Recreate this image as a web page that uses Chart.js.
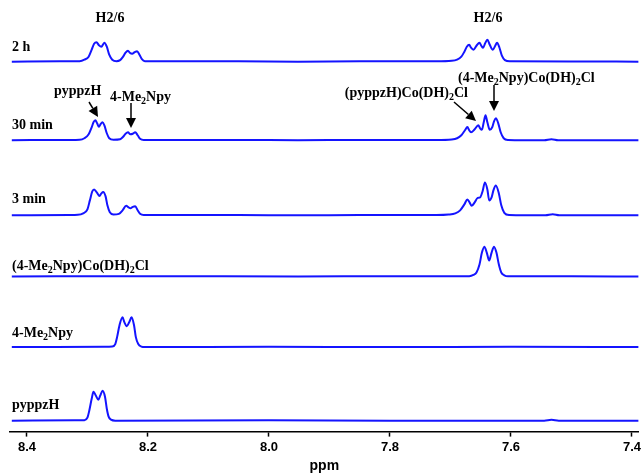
<!DOCTYPE html>
<html>
<head>
<meta charset="utf-8">
<script src="https://cdn.jsdelivr.net/npm/chart.js@4.4.0/dist/chart.umd.min.js"></script>
<style>
  html, body { margin: 0; padding: 0; background: #fff; }
  #wrap { width: 644px; height: 475px; }
</style>
</head>
<body>
<div id="wrap"><canvas id="nmrChart" width="644" height="475"></canvas></div>
<script>
// 1H NMR stacked spectra, H2/6 region

const traceNames = ["2 h", "30 min", "3 min", "(4-Me2Npy)Co(DH)2Cl", "4-Me2Npy", "pyppzH"];
const traceOffsets = [372, 293, 217.5, 156, 85, 11];
const xTicks = [8.4, 8.2, 8.0, 7.8, 7.6, 7.4];

// [ppm, intensity]
const spec2h = [
  [8.425, 0], [8.346, 0.3], [8.313, 0.5], [8.305, 2], [8.298, 5], [8.293, 12], [8.289, 18],
  [8.285, 19.5], [8.281, 16.5], [8.277, 15], [8.272, 19], [8.268, 15], [8.264, 7], [8.259, 2],
  [8.252, 0.5], [8.246, 1.5], [8.241, 5], [8.237, 9], [8.233, 11], [8.230, 9], [8.226, 8],
  [8.222, 9.5], [8.218, 10.5], [8.214, 7], [8.210, 2.5], [8.205, 0.5], [8.05, 0.4], [7.952, 0],
  [7.85, 0.3], [7.723, 0.3], [7.698, 0.8], [7.689, 2], [7.682, 5], [7.677, 10], [7.673, 15],
  [7.669, 17], [7.666, 14], [7.662, 12], [7.657, 16], [7.652, 19], [7.649, 16], [7.646, 14],
  [7.643, 18], [7.639, 22], [7.635, 17], [7.630, 12], [7.626, 16], [7.623, 19], [7.619, 14],
  [7.615, 6], [7.610, 1.5], [7.602, 0.3], [7.5, 0.2], [7.389, 0]
];
const spec30min = [
  [8.425, 0], [8.330, 0.3], [8.313, 0.5], [8.305, 2], [8.298, 6], [8.293, 13], [8.290, 18],
  [8.287, 20], [8.284, 17], [8.281, 13.5], [8.278, 16.5], [8.275, 18], [8.272, 15], [8.268, 7],
  [8.264, 2], [8.257, 0.5], [8.246, 1], [8.241, 3.5], [8.237, 6.5], [8.233, 8], [8.229, 6],
  [8.225, 6.5], [8.221, 8], [8.217, 5], [8.213, 1.5], [8.207, 0.3], [8.05, 0.3], [7.952, 0],
  [7.85, 0.3], [7.723, 0.3], [7.698, 0.8], [7.689, 2], [7.682, 5], [7.676, 10], [7.672, 13.3],
  [7.669, 10], [7.666, 8], [7.660, 11], [7.654, 15], [7.651, 12], [7.648, 10.5], [7.645, 18],
  [7.642, 25], [7.639, 18], [7.635, 10.5], [7.631, 13], [7.628, 19], [7.625, 22], [7.621, 17],
  [7.617, 8], [7.612, 2], [7.605, 0.3], [7.545, 0], [7.533, 1], [7.522, 0], [7.389, 0]
];
const spec3min = [
  [8.425, 0], [8.330, 0.3], [8.316, 0.5], [8.307, 2], [8.300, 6], [8.296, 15], [8.292, 24],
  [8.289, 26], [8.284, 22.5], [8.280, 19.5], [8.277, 22], [8.274, 23.5], [8.270, 19], [8.267, 10],
  [8.263, 3], [8.257, 0.8], [8.248, 1.5], [8.242, 5], [8.236, 9.5], [8.232, 8], [8.229, 7],
  [8.225, 8.5], [8.221, 9], [8.217, 5], [8.213, 1.5], [8.207, 0.3], [8.05, 0.3], [7.952, 0],
  [7.85, 0.3], [7.723, 0.3], [7.703, 0.8], [7.692, 2], [7.684, 5], [7.677, 11], [7.672, 16],
  [7.668, 12.5], [7.665, 9.5], [7.660, 13], [7.655, 17.5], [7.651, 18], [7.647, 24], [7.643, 33],
  [7.639, 26], [7.636, 15], [7.632, 18], [7.629, 25], [7.625, 30], [7.620, 22], [7.616, 10],
  [7.611, 2.5], [7.603, 0.3], [7.543, 0], [7.531, 1], [7.520, 0], [7.389, 0]
];
const specCoNpy = [
  [8.425, 0], [8.2, 0.3], [7.952, 0], [7.8, 0.3], [7.690, 0.3], [7.669, 0.3], [7.662, 1.5],
  [7.657, 4], [7.652, 12], [7.648, 24], [7.644, 30], [7.640, 24], [7.636, 16], [7.632, 24],
  [7.628, 30], [7.624, 24], [7.620, 12], [7.616, 4], [7.611, 1.2], [7.605, 0.2], [7.5, 0.2],
  [7.389, 0]
];
const specNpy = [
  [8.425, 0], [8.272, 0.3], [8.259, 0.5], [8.254, 3], [8.251, 10], [8.247, 22], [8.242, 30],
  [8.239, 25], [8.235, 21], [8.231, 25], [8.227, 30], [8.223, 22], [8.220, 10], [8.216, 3],
  [8.211, 0.5], [8.205, 0], [8.0, 0.3], [7.8, 0], [7.6, 0.3], [7.389, 0]
];
const specPyppzH = [
  [8.425, 0], [8.321, 0.3], [8.305, 0.5], [8.300, 3], [8.297, 10], [8.293, 22], [8.290, 29],
  [8.286, 25], [8.282, 21], [8.279, 25], [8.275, 30], [8.271, 24], [8.268, 12], [8.265, 4],
  [8.261, 1], [8.254, 0], [8.0, 0.3], [7.8, 0], [7.545, 0], [7.533, 0.8], [7.521, 0], [7.389, 0]
];
const spectra = [spec2h, spec30min, spec3min, specCoNpy, specNpy, specPyppzH];

const lineColor = "#1414ff";
const serif = "Liberation Serif";
const sans = "Liberation Sans";

// text with subscripts: plain strings and [sub] arrays
function richText(ctx, parts, x, y, align) {
  const big = "bold 14px '" + serif + "'";
  const small = "bold 10px '" + serif + "'";
  let w = 0;
  parts.forEach(p => {
    ctx.font = Array.isArray(p) ? small : big;
    w += ctx.measureText(Array.isArray(p) ? p[0] : p).width;
  });
  let cx = x;
  if (align === "right") cx = x - w;
  if (align === "center") cx = x - w / 2;
  ctx.textAlign = "left";
  ctx.textBaseline = "middle";
  ctx.fillStyle = "#000";
  parts.forEach(p => {
    const sub = Array.isArray(p);
    const s = sub ? p[0] : p;
    ctx.font = sub ? small : big;
    ctx.fillText(s, cx, sub ? y + 4 : y);
    cx += ctx.measureText(s).width;
  });
}

function arrow(ctx, x1, y1, x2, y2) {
  const a = Math.atan2(y2 - y1, x2 - x1);
  const len = 10, half = 5;
  const bx = x2 - len * Math.cos(a), by = y2 - len * Math.sin(a);
  ctx.strokeStyle = "#000";
  ctx.lineWidth = 1.5;
  ctx.beginPath();
  ctx.moveTo(x1, y1);
  ctx.lineTo(bx, by);
  ctx.stroke();
  ctx.fillStyle = "#000";
  ctx.beginPath();
  ctx.moveTo(x2, y2);
  ctx.lineTo(bx + half * Math.sin(a), by - half * Math.cos(a));
  ctx.lineTo(bx - half * Math.sin(a), by + half * Math.cos(a));
  ctx.closePath();
  ctx.fill();
}

const labelsPlugin = {
  id: "labels",
  afterDraw(chart) {
    const ctx = chart.ctx;
    const xs = chart.scales.x;
    ctx.save();

    // minor ticks
    const base = xs.bottom;
    ctx.strokeStyle = "#000";
    ctx.lineWidth = 1.2;
    const step = 0.2 / 6;
    for (let k = -1; k <= 31; k++) {
      if (k % 6 === 0) continue;
      const v = 8.4 - k * step;
      if (v < xs.min || v > xs.max) continue;
      const px = Math.round(xs.getPixelForValue(v)) + 0.5;
      ctx.beginPath();
      ctx.moveTo(px, base);
      ctx.lineTo(px, base + 3);
      ctx.stroke();
    }

    // trace names
    richText(ctx, ["2 h"], 12, 47);
    richText(ctx, ["30 min"], 12, 125);
    richText(ctx, ["3 min"], 12, 199);
    richText(ctx, ["(4-Me", ["2"], "Npy)Co(DH)", ["2"], "Cl"], 12, 266);
    richText(ctx, ["4-Me", ["2"], "Npy"], 12, 333);
    richText(ctx, ["pyppzH"], 12, 405);

    // peak annotations
    richText(ctx, ["H2/6"], 110, 18, "center");
    richText(ctx, ["H2/6"], 488, 18, "center");
    richText(ctx, ["pyppzH"], 54, 91);
    richText(ctx, ["4-Me", ["2"], "Npy"], 110, 97);
    richText(ctx, ["(pyppzH)Co(DH)", ["2"], "Cl"], 468, 93, "right");
    richText(ctx, ["(4-Me", ["2"], "Npy)Co(DH)", ["2"], "Cl"], 458, 78);

    arrow(ctx, 89, 102, 98, 117);
    arrow(ctx, 131, 103, 131, 128);
    arrow(ctx, 454, 102, 476, 121);
    arrow(ctx, 494, 85, 494, 111);
    ctx.restore();
  }
};

new Chart(document.getElementById("nmrChart"), {
  type: "line",
  data: {
    datasets: spectra.map((spec, i) => ({
      label: traceNames[i],
      data: spec.map(p => ({ x: p[0], y: p[1] + traceOffsets[i] })),
      borderColor: lineColor,
      borderWidth: 2,
      pointRadius: 0,
      fill: false,
      cubicInterpolationMode: "monotone"
    }))
  },
  options: {
    responsive: false,
    animation: false,
    layout: { padding: { left: 10, right: 0, top: 0, bottom: 0 } },
    plugins: { legend: { display: false }, tooltip: { enabled: false } },
    scales: {
      x: {
        type: "linear",
        reverse: true,
        min: 7.389,
        max: 8.428,
        afterBuildTicks: s => { s.ticks = xTicks.map(v => ({ value: v })); },
        grid: { drawOnChartArea: false, drawTicks: true, tickLength: 5, tickWidth: 1.5, tickColor: "#000" },
        border: { display: true, color: "#000", width: 1.5 },
        ticks: {
          color: "#000",
          padding: 3,
          maxRotation: 0,
          autoSkip: false,
          font: { family: sans, size: 13, weight: "bold" },
          callback: v => v.toFixed(1)
        },
        title: {
          display: true,
          text: "ppm",
          color: "#000",
          font: { family: sans, size: 14, weight: "bold" },
          padding: { top: 0, bottom: 0 }
        }
      },
      y: { display: false, min: 0, max: 434 }
    }
  },
  plugins: [labelsPlugin]
});
</script>
</body>
</html>
